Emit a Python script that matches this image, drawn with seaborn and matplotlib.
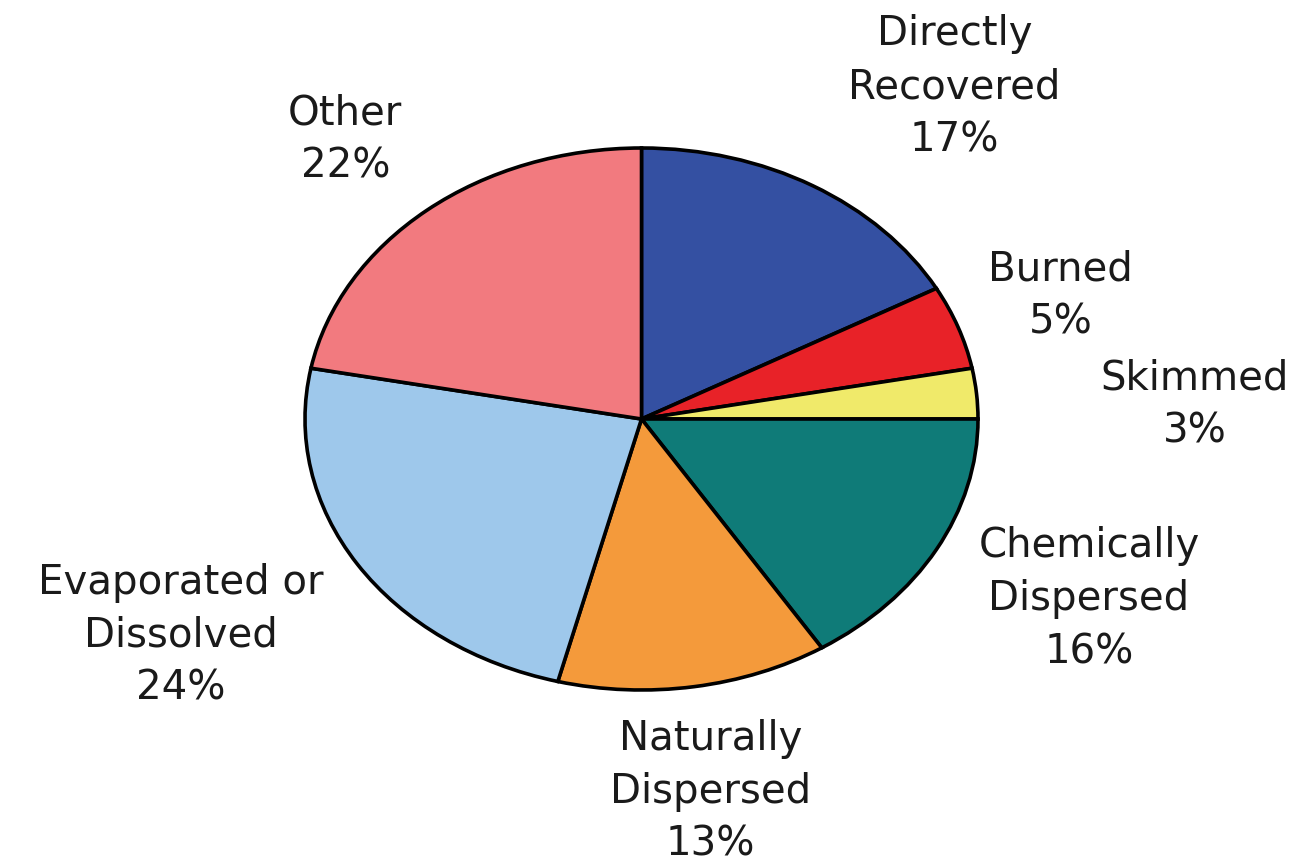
import matplotlib
matplotlib.use("Agg")
import matplotlib.pyplot as plt
import seaborn as sns

# Fate of spilled oil, share of total volume
categories = ["Directly\nRecovered", "Burned", "Skimmed", "Chemically\nDispersed",
              "Naturally\nDispersed", "Evaporated or\nDissolved", "Other"]
shares = [17, 5, 3, 16, 13, 24, 22]
colors = ["#3450A2", "#E82228", "#F0EA6A", "#0F7B78", "#F49A3B", "#9EC8EB", "#F27A7F"]

# label anchor points (axes data units, pie radius = 1)
label_x = [0.93, 1.245, 1.645, 1.33, 0.205, -1.37, -0.88]
label_y = [1.225, 0.455, 0.05, -0.665, -1.375, -0.80, 1.03]

sns.set_theme(style="white")
plt.rcParams["font.family"] = ["DejaVu Sans"]

W, H = 1310, 868
fig = plt.figure(figsize=(W / 100, H / 100), dpi=100)
fig.patch.set_facecolor("white")

# the pie is drawn stretched into an ellipse
cx, cy, rx, ry = 641.5, 419, 336.5, 271
ax = fig.add_axes([(cx - rx) / W, (H - cy - ry) / H, 2 * rx / W, 2 * ry / H])
ax.pie(shares, colors=colors, startangle=90, counterclock=False,
       wedgeprops=dict(edgecolor="black", linewidth=2.6))
ax.set_aspect("auto")
ax.set_xlim(-1, 1)
ax.set_ylim(-1, 1)
ax.axis("off")

for name, val, x, y in zip(categories, shares, label_x, label_y):
    ax.text(x, y, f"{name}\n{val}%", ha="center", va="center",
            fontsize=29, color="#1a1a1a", linespacing=1.42, clip_on=False)

fig.savefig("out.png", dpi=100, facecolor="white")
